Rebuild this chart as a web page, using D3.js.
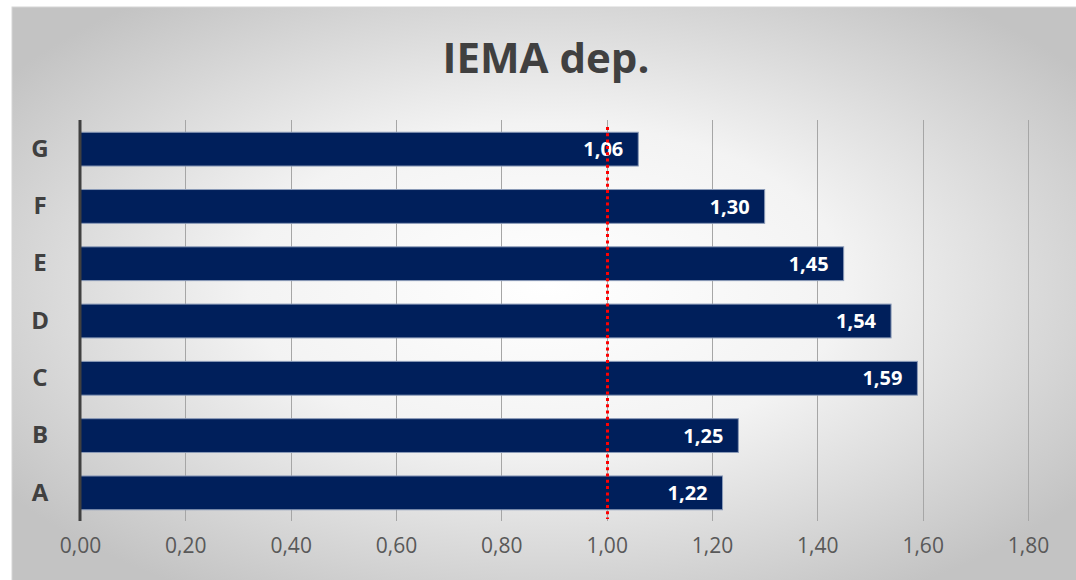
<!DOCTYPE html>
<html>
<head>
<meta charset="utf-8">
<script src="https://cdn.jsdelivr.net/npm/d3@7"></script>
<style>
  html, body { margin: 0; padding: 0; background: #ffffff; }
  svg { display: block; }
</style>
</head>
<body>
<svg id="chart" width="1076" height="580"></svg>
<script>
// Categories listed bottom to top as they appear on the axis
const categories = ["A", "B", "C", "D", "E", "F", "G"];
const values = [1.22, 1.25, 1.59, 1.54, 1.45, 1.30, 1.06];
const tickValues = [0, 0.2, 0.4, 0.6, 0.8, 1.0, 1.2, 1.4, 1.6, 1.8];
const referenceValue = 1.0;
const title = "IEMA dep.";

const fmt = v => d3.format(".2f")(v).replace(".", ",");
const font = "'Open Sans', 'Liberation Sans', sans-serif";

const svg = d3.select("#chart");

// Panel background: soft radial gradient
const defs = svg.append("defs");
const grad = defs.append("radialGradient")
  .attr("id", "bg")
  .attr("cx", "50%").attr("cy", "48%").attr("r", "62%");
grad.append("stop").attr("offset", "0%").attr("stop-color", "#ffffff");
grad.append("stop").attr("offset", "45%").attr("stop-color", "#f3f3f3");
grad.append("stop").attr("offset", "100%").attr("stop-color", "#c3c3c3");

svg.append("rect")
  .attr("x", 12).attr("y", 7)
  .attr("width", 1070).attr("height", 580)
  .attr("fill", "url(#bg)")
  .attr("stroke", "#d6d6d6").attr("stroke-width", 1);

// Title
svg.append("text")
  .attr("x", 546).attr("y", 73)
  .attr("text-anchor", "middle")
  .attr("font-family", font)
  .attr("font-weight", 700)
  .attr("font-size", 42)
  .attr("fill", "#404040")
  .text(title);

const x = d3.scaleLinear().domain([0, 1.8]).range([80, 1028]);
const y = d3.scaleBand()
  .domain(categories.slice().reverse())
  .range([120.5, 521.5])
  .paddingInner(0.41)
  .paddingOuter(0.205);

// Vertical gridlines
svg.append("g")
  .selectAll("line")
  .data(tickValues.filter(t => t > 0))
  .join("line")
  .attr("x1", d => Math.round(x(d)) + 0.5)
  .attr("x2", d => Math.round(x(d)) + 0.5)
  .attr("y1", 120).attr("y2", 521)
  .attr("stroke", "#a6a6a6").attr("stroke-width", 1);

// Bottom tick labels through a D3 axis
const xAxis = svg.append("g")
  .attr("transform", "translate(0,535)")
  .call(d3.axisBottom(x).tickValues(tickValues).tickFormat(fmt).tickSize(0).tickPadding(0));
xAxis.select(".domain").remove();
xAxis.selectAll("text")
  .attr("dy", "0.88em")
  .attr("font-family", font)
  .attr("font-size", 21)
  .attr("fill", "#595959");

// Bars
svg.append("g")
  .selectAll("rect")
  .data(categories.map((c, i) => ({ c, v: values[i] })))
  .join("rect")
  .attr("x", x(0))
  .attr("y", d => y(d.c))
  .attr("width", d => x(d.v) - x(0))
  .attr("height", y.bandwidth())
  .attr("fill", "#001f5b")
  .attr("stroke", "#8b9bb8")
  .attr("stroke-width", 1);

// Value labels inside bar ends
svg.append("g")
  .selectAll("text")
  .data(categories.map((c, i) => ({ c, v: values[i] })))
  .join("text")
  .attr("x", d => x(d.v) - 15)
  .attr("y", d => y(d.c) + y.bandwidth() / 2)
  .attr("dy", "0.36em")
  .attr("text-anchor", "end")
  .attr("font-family", font)
  .attr("font-weight", 700)
  .attr("font-size", 20)
  .attr("fill", "#ffffff")
  .text(d => fmt(d.v));

// Left category axis
const yAxis = svg.append("g")
  .attr("transform", "translate(80,0)")
  .call(d3.axisLeft(y).tickSize(0).tickPadding(30));
yAxis.select(".domain").remove();
yAxis.selectAll("text")
  .attr("text-anchor", "middle")
  .attr("font-family", font)
  .attr("font-weight", 700)
  .attr("font-size", 24)
  .attr("fill", "#404040");
yAxis.selectAll(".tick text").attr("x", -40);

svg.append("line")
  .attr("x1", 80).attr("x2", 80)
  .attr("y1", 120).attr("y2", 521)
  .attr("stroke", "#404040").attr("stroke-width", 3);

// Reference line at 1,00
const refX = Math.round(x(referenceValue)) + 0.5;
svg.append("line")
  .attr("x1", refX).attr("x2", refX)
  .attr("y1", 127).attr("y2", 519)
  .attr("stroke", "#ff0000").attr("stroke-width", 3)
  .attr("stroke-dasharray", "3,3.3");
</script>
</body>
</html>
